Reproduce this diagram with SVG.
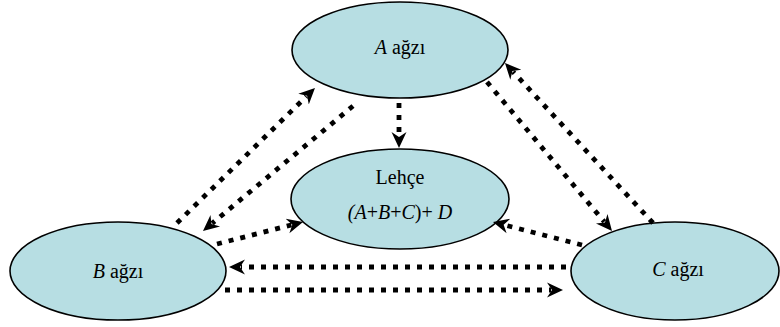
<svg xmlns="http://www.w3.org/2000/svg" width="780" height="327" viewBox="0 0 780 327">
<style>
.node ellipse{fill:#b7dee3;stroke:#000;stroke-width:1.6}
.node text{font-family:"Liberation Serif","Times New Roman",serif;font-size:20px;fill:#000;text-anchor:middle}
.conn path{fill:none;stroke:#000;stroke-width:4.8;stroke-dasharray:5 7;marker-end:url(#ah)}
</style>
<defs>
<marker id="ah" markerUnits="userSpaceOnUse" markerWidth="18" markerHeight="18" refX="4" refY="0" viewBox="0 -9 18 18" orient="auto">
<path d="M0,-7.5 L16,0 L0,7.5 L5,0 Z" fill="#000" stroke="none"/>
</marker>
</defs>
<rect width="780" height="327" fill="#fff"/>
<g id="A" class="node">
<ellipse cx="400" cy="50" rx="108" ry="48"/>
<text x="400" y="54"><tspan font-style="italic">A</tspan> ağzı</text>
</g>
<g id="Lehce" class="node">
<ellipse cx="400" cy="199" rx="109" ry="50"/>
<text x="400" y="184">Lehçe</text>
<text x="400" y="219"><tspan font-style="italic">(A</tspan>+<tspan font-style="italic">B</tspan>+<tspan font-style="italic">C</tspan>)+ <tspan font-style="italic">D</tspan></text>
</g>
<g id="B" class="node">
<ellipse cx="118" cy="271" rx="108" ry="49"/>
<text x="118" y="278"><tspan font-style="italic">B</tspan> ağzı</text>
</g>
<g id="C" class="node">
<ellipse cx="675" cy="271" rx="104" ry="49"/>
<text x="678" y="276"><tspan font-style="italic">C</tspan> ağzı</text>
</g>
<g id="connectors" class="conn">
<path d="M177,223 L306.4,96.4"/>
<path d="M353,106 L212.2,223.3"/>
<path d="M399,103 L399,136"/>
<path d="M217,244 L291.4,225"/>
<path d="M582,245 L504.6,225"/>
<path d="M487,82 L604.3,221.8"/>
<path d="M653,223 L513.1,71.8"/>
<path d="M566,267 L241,267"/>
<path d="M225,290 L551,290"/>
</g>
</svg>
